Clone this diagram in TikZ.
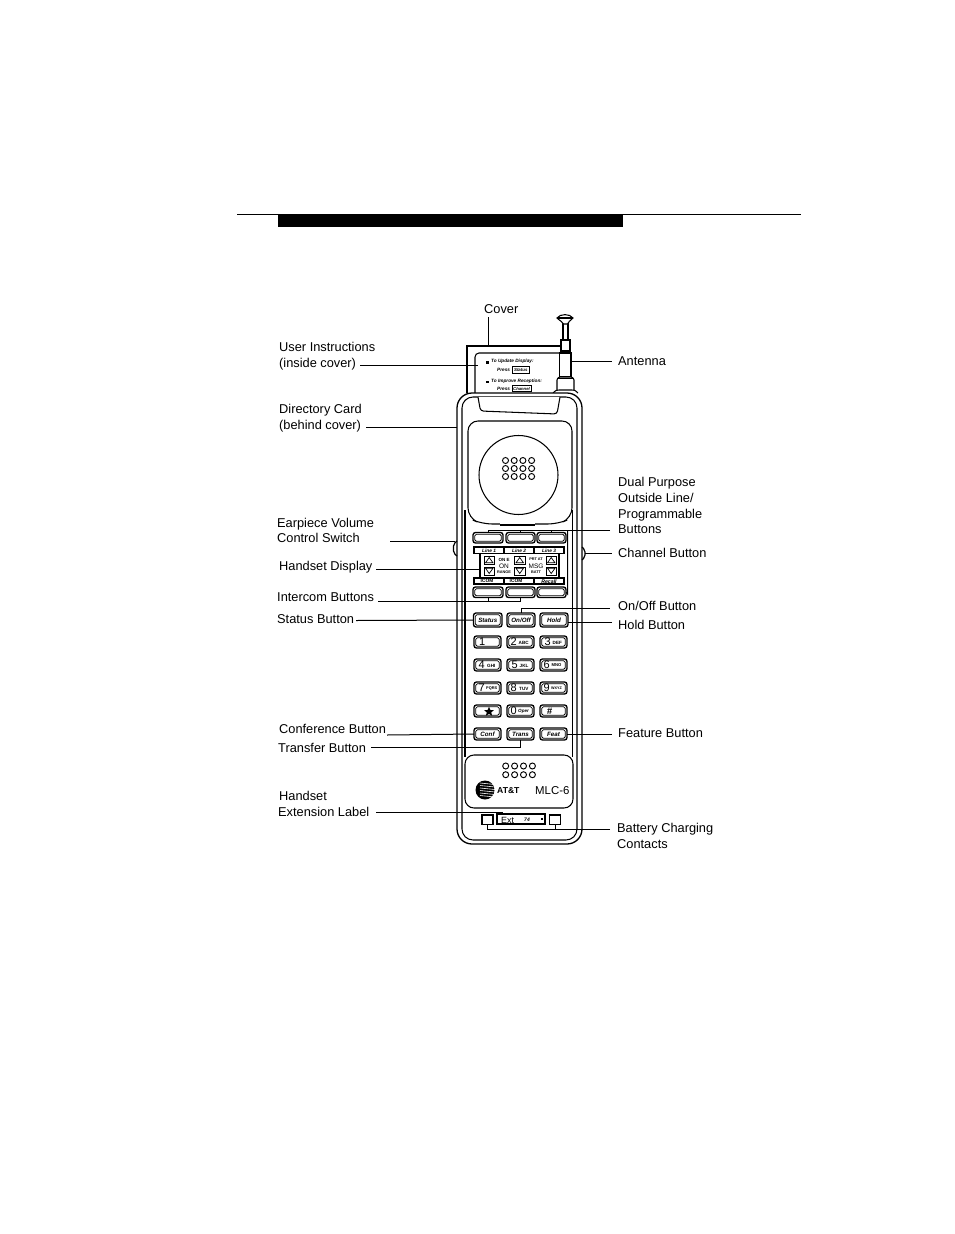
\documentclass[tikz,border=0pt]{standalone}
\usepackage{fontspec}
\setmainfont{Liberation Sans}
\tikzset{
  x=1pt,y=-1pt,
  ln/.style={draw=black,line width=1.05pt},
  lead/.style={draw=black,line width=1pt},
  lab/.style={anchor=west,inner sep=0pt,text height=9.8pt,text depth=2pt,font=\fontsize{12.8}{14}\selectfont},
  keyo/.style={draw=black,line width=1.35pt,rounded corners=2.5pt},
  keyi/.style={draw=black,line width=0.85pt,rounded corners=1.5pt},
  tiny/.style={inner sep=0pt,font=\fontsize{4.5}{5}\selectfont\bfseries},
  keyt/.style={inner sep=0pt,font=\fontsize{6.2}{7}\selectfont\itshape\bfseries},
  num/.style={inner sep=0pt,anchor=west,font=\fontsize{11}{12}\selectfont},
  sub/.style={inner sep=0pt,anchor=west,font=\fontsize{4.6}{5}\selectfont\bfseries},
  hole/.style={draw=black,line width=0.95pt,fill=white}
}
\newcommand{\keybtn}[5]{% name, x1,y1,x2,y2
  \draw[keyo] (#2,#3) rectangle (#4,#5);
  \draw[keyi] (#2+1.8,#3+1.8) rectangle (#4-1.8,#5-1.8);
  \coordinate (#1) at ({(#2+#4)/2},{(#3+#5)/2});
  \coordinate (#1n) at ({(#2+#4)/2},#3);
  \coordinate (#1s) at ({(#2+#4)/2},#5);
  \coordinate (#1w) at (#2,{(#3+#5)/2});
  \coordinate (#1e) at (#4,{(#3+#5)/2});
}
\begin{document}
\begin{tikzpicture}
\useasboundingbox (0,0) rectangle (954,1234);
\fill[white] (0,0) rectangle (954,1234);
% header
\draw[draw=black,line width=0.9pt] (237,214.5) -- (801,214.5);
\fill[black] (278,214) rectangle (623,227);
% cover
\draw[ln] (467,393) -- (467,346) -- (563,346);
\draw[ln,rounded corners=4pt] (475,393) -- (475,353) -- (562,353);
\fill[black] (486,361) rectangle (488.5,363.5);
\fill[black] (486,380.5) rectangle (488.5,383);
\node[anchor=west,inner sep=0pt,font=\fontsize{4.7}{5}\selectfont\bfseries\itshape] (t1) at (491,361.5) {To Update Display:};
\node[anchor=west,inner sep=0pt,font=\fontsize{4.7}{5}\selectfont\bfseries\itshape] (t2) at (497,369.5) {Press};
\node[anchor=west,inner sep=0pt,font=\fontsize{4.7}{5}\selectfont\bfseries\itshape] (t3) at (491,381) {To Improve Reception:};
\node[anchor=west,inner sep=0pt,font=\fontsize{4.7}{5}\selectfont\bfseries\itshape] (t4) at (497,388.5) {Press};
\draw[draw=black,line width=0.9pt] (512,366.5) rectangle (529.5,373);
\node[inner sep=0pt,font=\fontsize{4.4}{5}\selectfont\bfseries\itshape] (t5) at (520.8,369.8) {Status};
\draw[draw=black,line width=0.9pt] (512,385.5) rectangle (531,391.5);
\node[inner sep=0pt,font=\fontsize{4.2}{4}\selectfont\bfseries\itshape] (t6) at (521.5,388.5) {Channel};
% antenna
\draw[ln,fill=white] (563,323) -- (563,340) -- (568,340) -- (568,323);
\draw[ln,fill=white] (561,340) -- (561,353) -- (570,353) -- (570,340) -- cycle;
\draw[ln,fill=white] (559.5,353) rectangle (571,377);
\draw[ln] (560,351) -- (571,351);
\draw[ln,fill=white,rounded corners=1pt] (557,390) -- (557,379) -- (559,377) -- (572,377) -- (574,379) -- (574,390);
\draw[draw=black,line width=1.6pt] (557.5,378.5) -- (573.5,378.5);
\draw[ln,fill=white] (557,318) .. controls (560,313.5) and (570,313.5) .. (573,318) .. controls (570,321) and (568,322) .. (567.5,324) -- (563.5,324) .. controls (563,322) and (560,321) .. (557,318) -- cycle;
\draw[ln] (557,318) -- (573,318);
\draw[ln] (553,393) .. controls (556,390) and (557,390) .. (559,390) -- (572,390) .. controls (574,390) and (575,390) .. (578,393);
% body
\draw[draw=black,line width=1.3pt,fill=white,rounded corners=15pt] (457,393) rectangle (582,844);
\draw[ln,rounded corners=11pt] (462,397) rectangle (577,840);
\draw[ln] (465,510) -- (465,757);
\draw[ln] (572.5,510) -- (572.5,757);
% top notch
\draw[ln,fill=white,rounded corners=3pt] (478,397) -- (480.5,411) -- (557,414) -- (560,397);
% earpiece
\draw[ln,fill=white,rounded corners=10pt] (468,421) -- (572,421) -- (572,518) -- (558,524) -- (482,524) -- (468,518) -- cycle;
\draw[ln] (518.5,475) circle[radius=39.5];
\foreach \i in {0,1,2,3}{\foreach \j in {0,1,2}{
  \draw[hole] ({505.5+8.7*\i},{460.5+8*\j}) circle[radius=3];
}}
% panel cuts
\draw[draw=white,line width=2.5pt] (500,524) -- (535,524);
\draw[ln] (500,525) -- (535,525);
% side bumps
\draw[draw=black,line width=1.2pt,rounded corners=2pt] (457,541) -- (453.5,544) -- (453.5,553) -- (457,556);
\draw[draw=black,line width=1.2pt,rounded corners=2pt] (582,547) -- (585,550) -- (585,557) -- (582,560);
% top row buttons
\keybtn{a1}{473}{532.5}{503}{543}
\keybtn{a2}{506}{532.5}{535}{543}
\keybtn{a3}{537}{532.5}{566}{543}
% strips
\draw[ln] (474,547) rectangle (564,553.5);
\draw[ln] (504,547) -- (504,553.5);
\draw[ln] (534,547) -- (534,553.5);
\node[keyt,font=\fontsize{4.8}{5}\selectfont\itshape\bfseries] (l1) at (489,550.3) {Line 1};
\node[keyt,font=\fontsize{4.8}{5}\selectfont\itshape\bfseries] (l2) at (519,550.3) {Line 2};
\node[keyt,font=\fontsize{4.8}{5}\selectfont\itshape\bfseries] (l3) at (549,550.3) {Line 3};
% display
\draw[ln] (480,553.5) -- (480,577.5);
\draw[ln] (559,553.5) -- (559,577.5);
\foreach \xa in {484,514.5,546}{
  \draw[draw=black,line width=0.9pt] (\xa,556) rectangle (\xa+10.5,564);
  \draw[draw=black,line width=0.9pt] (\xa,567) rectangle (\xa+10.5,575);
  \draw[draw=black,line width=0.7pt] (\xa+5.2,557.5) -- (\xa+9,562.8) -- (\xa+1.5,562.8) -- cycle;
  \draw[draw=black,line width=0.7pt] (\xa+5.2,573.5) -- (\xa+9,568.2) -- (\xa+1.5,568.2) -- cycle;
}
\node[tiny] (d1) at (504,559.5) {ON E};
\node[inner sep=0pt,font=\fontsize{6.5}{7}\selectfont] (d2) at (504,566) {ON};
\node[tiny,font=\fontsize{3.8}{4}\selectfont\bfseries] (d3) at (504,572.3) {RANGE};
\node[tiny,font=\fontsize{3.8}{4}\selectfont\bfseries] (d4) at (536,559.5) {PRT AT};
\node[inner sep=0pt,font=\fontsize{6.5}{7}\selectfont] (d5) at (536,566) {MSG};
\node[tiny,font=\fontsize{3.8}{4}\selectfont\bfseries] (d6) at (536,572.3) {BATT};
% lower strip
\draw[ln] (474,578) rectangle (564,584);
\draw[ln] (504,578) -- (504,584);
\draw[ln] (534,578) -- (534,584);
\draw[draw=black,line width=1.3pt] (534,578) -- (564,578);
\draw[draw=black,line width=1.3pt] (534,584) -- (564,584);
\node[inner sep=0pt,font=\fontsize{4.8}{5}\selectfont\bfseries] (i1) at (487,581.2) {ICOM};
\node[inner sep=0pt,font=\fontsize{4.8}{5}\selectfont\bfseries] (i2) at (516,581.2) {ICOM};
\node[inner sep=0pt,font=\fontsize{5.2}{5}\selectfont\bfseries\itshape] (i3) at (549,581.2) {Recall};
% second row
\keybtn{b1}{473}{587}{503}{597.5}
\keybtn{b2}{506}{587}{535}{597.5}
\keybtn{b3}{537}{587}{566}{597.5}
% function row
\keybtn{st}{473.5}{613}{502}{627}
\keybtn{on}{507}{613}{535}{627}
\keybtn{ho}{540}{613}{568}{627}
\node[keyt] (stt) at (st) {Status};
\node[keyt] (ont) at (on) {On/Off};
\node[keyt] (hot) at (ho) {Hold};
% keypad
\keybtn{k1}{474}{636}{501}{648}
\keybtn{k2}{507}{636}{534}{648}
\keybtn{k3}{540}{636}{567}{648}
\keybtn{k4}{474}{659}{501}{671}
\keybtn{k5}{507}{659}{534}{671}
\keybtn{k6}{540}{659}{567}{671}
\keybtn{k7}{474}{682}{501}{694}
\keybtn{k8}{507}{682}{534}{694}
\keybtn{k9}{540}{682}{567}{694}
\keybtn{ks}{474}{705}{501}{717}
\keybtn{k0}{507}{705}{534}{717}
\keybtn{kh}{540}{705}{567}{717}
\keybtn{cf}{474}{728}{501}{740}
\keybtn{tr}{507}{728}{534}{740}
\keybtn{fe}{540}{728}{567}{740}
\node[num] (n1) at (479,642) {1};
\node[num] (n2) at (510.5,642) {2};\node[sub] (s2) at (518.5,642.5) {ABC};
\node[num] (n3) at (544.5,642) {3};\node[sub] (s3) at (552.5,642.5) {DEF};
\node[num] (n4) at (478.5,665) {4};\node[sub] (s4) at (487,665.5) {GHI};
\node[num] (n5) at (511.5,665) {5};\node[sub] (s5) at (519.5,665.5) {JKL};
\node[num] (n6) at (543.5,665) {6};\node[sub,font=\fontsize{4.2}{5}\selectfont\bfseries] (s6) at (551.5,665.5) {MNO};
\node[num] (n7) at (478.5,688) {7};\node[sub,font=\fontsize{3.9}{4}\selectfont\bfseries] (s7) at (486,688.5) {PQRS};
\node[num] (n8) at (510.5,688) {8};\node[sub] (s8) at (519,688.5) {TUV};
\node[num] (n9) at (543.5,688) {9};\node[sub,font=\fontsize{3.7}{4}\selectfont\bfseries] (s9) at (551,688.5) {WXYZ};
\fill[black] (489,706.8) -- (490.4,710) -- (493.8,710.2) -- (491.2,712.4) -- (492.1,715.7) -- (489,713.9) -- (485.9,715.7) -- (486.8,712.4) -- (484.2,710.2) -- (487.6,710) -- cycle;
\node[num] (n0) at (510.5,711) {0};\node[sub,font=\fontsize{4.6}{4}\selectfont\bfseries\itshape] (s0) at (518,711.5) {Oper};
\node[inner sep=0pt,font=\fontsize{9.5}{11}\selectfont\bfseries\itshape] (nh) at (549.5,711) {\#};
\node[keyt] (cft) at (cf) {Conf};
\node[keyt] (trt) at (tr) {Trans};
\node[keyt] (fet) at (fe) {Feat};
% bottom panel
\draw[ln,fill=white,rounded corners=9pt] (465,755) rectangle (573,808);
\foreach \i in {0,1,2,3}{\foreach \j in {0,1}{
  \draw[hole] ({505.7+8.9*\i},{766+8.7*\j}) circle[radius=3];
}}
\fill[black] (485,790) circle[radius=9.5];
\foreach \yy in {783,785.5,788,790.5,793,795.5}{
  \draw[white,line width=0.6pt] (480,\yy) -- (495,\yy+1.5);
}
\node[inner sep=0pt,anchor=west,font=\fontsize{8.6}{10}\selectfont\bfseries] (att) at (497,791) {AT\&T};
\node[inner sep=0pt,anchor=west,font=\fontsize{11.4}{14}\selectfont] (mlc) at (535,791) {MLC-6};
% contacts
\draw[draw=black,line width=1.1pt] (482,815) rectangle (493,824.5);
\draw[draw=black,line width=1.1pt] (549.5,815) rectangle (560.5,824.5);
\draw[draw=black,line width=1.1pt] (497,814) rectangle (545,824);
\coordinate (cl) at (487.5,824.5);
\coordinate (cr) at (555,824.5);
\node[inner sep=0pt,anchor=west,font=\fontsize{9}{11}\selectfont] (ext) at (501,820) {Ext};
\node[inner sep=0pt,font=\fontsize{5}{6}\selectfont\bfseries\itshape] (fn) at (527,819.5) {74};
\fill[black] (541,818) rectangle (543,820);
% label nodes
\node[lab] (cover) at (484,310) {Cover};
\node[lab] (ui1) at (279,348) {User Instructions};
\node[lab] (ui2) at (279,364) {(inside cover)};
\node[lab] (dc1) at (279,409.5) {Directory Card};
\node[lab] (dc2) at (279,425.5) {(behind cover)};
\node[lab] (ev1) at (277,524) {Earpiece Volume};
\node[lab] (ev2) at (277,539) {Control Switch};
\node[lab] (hd) at (279,567) {Handset Display};
\node[lab] (ib) at (277,598) {Intercom Buttons};
\node[lab] (sb) at (277,620) {Status Button};
\node[lab] (cb) at (279,730) {Conference Button};
\node[lab] (tb) at (278,749) {Transfer Button};
\node[lab] (he1) at (279,796.5) {Handset};
\node[lab] (he2) at (278,812.5) {Extension Label};
\node[lab] (ant) at (618,362) {Antenna};
\node[lab] (du1) at (618,483) {Dual Purpose};
\node[lab] (du2) at (618,499) {Outside Line/};
\node[lab] (du3) at (618,515) {Programmable};
\node[lab] (du4) at (618,530) {Buttons};
\node[lab] (ch) at (618,554) {Channel Button};
\node[lab] (oo) at (618,607) {On/Off Button};
\node[lab] (hb) at (618,625.5) {Hold Button};
\node[lab] (fb) at (618,734) {Feature Button};
\node[lab] (bc1) at (617,829) {Battery Charging};
\node[lab] (bc2) at (617,845) {Contacts};
% leader ends
\coordinate (Lcv1) at (488,317); \coordinate (Lcv2) at (488,346);
\coordinate (Lui1) at (360,365.5); \coordinate (Lui2) at (478,365.5);
\coordinate (Ldc1) at (366,427.5); \coordinate (Ldc2) at (457,427.5);
\coordinate (Lan1) at (570,361.5); \coordinate (Lan2) at (612,361.5);
\coordinate (Lev1) at (390,541); \coordinate (Lev2) at (455,541);
\coordinate (Lhd1) at (376,569); \coordinate (Lhd2) at (480,569);
\coordinate (Lib1) at (378,601); \coordinate (Lib2) at (520.5,601);
\coordinate (Lsb1) at (356,620.5);
\coordinate (Lcb1) at (387,735);
\coordinate (Ltb1) at (371,747);
\coordinate (Lex1) at (376,812); \coordinate (Lex2) at (502,812); \coordinate (Lex3) at (502,814);
\coordinate (Ldu1) at (610,530); \coordinate (Ldu2) at (567.5,530); \coordinate (Ldu3) at (567.5,594);
\coordinate (Lch1) at (585,553); \coordinate (Lch2) at (612,553);
\coordinate (Loo1) at (610,608);
\coordinate (Lhb1) at (612,622.5);
\coordinate (Lfb1) at (612,734);
\coordinate (Lbc1) at (610,829);
% leaders
\draw[lead] (Lcv1) -- (Lcv2);
\draw[lead] (Lui1) -- (Lui2);
\draw[lead] (Ldc1) -- (Ldc2);
\draw[lead] (Lan1) -- (Lan2);
\draw[lead] (Lev1) -- (Lev2);
\draw[lead] (Lhd1) -- (Lhd2);
\draw[lead] (Lib1) -- (Lib2);
\draw[lead] (b1s) -- (b1s |- Lib1);
\draw[lead] (b2s) -- (b2s |- Lib1);
\draw[lead] (Lsb1) -- (stw);
\draw[lead] (Lcb1) -- (cfw);
\draw[lead] (Ltb1) -| (trs);
\draw[lead] (Lex1) -- (Lex2) -- (Lex3);
\draw[lead] (Ldu1) -- (a1n |- Ldu1) -- (a1n);
\draw[lead] (a2n) -- (a2n |- Ldu1);
\draw[lead] (a3n) -- (a3n |- Ldu1);
\draw[lead] (Ldu2) -- (Ldu3) -- (b3e);
\draw[lead] (Lch1) -- (Lch2);
\draw[lead] (onn) |- (Loo1);
\draw[lead] (Lhb1) -- (hoe |- Lhb1);
\draw[lead] (Lfb1) -- (fee);
\draw[lead] (Lbc1) -- (cl |- Lbc1) -- (cl);
\draw[lead] (cr) -- (cr |- Lbc1);
\end{tikzpicture}
\end{document}
